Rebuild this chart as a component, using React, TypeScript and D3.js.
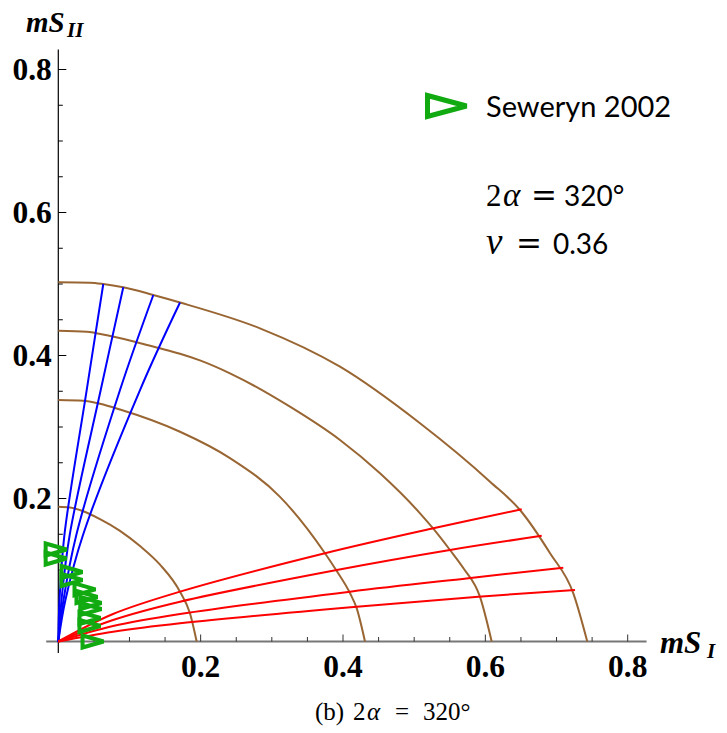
import React, { useRef, useEffect } from 'react';
import * as d3 from 'd3';

type Pt = [number, number];

// brown contours, inner to outer
const contour1: Pt[] = [[0, 0.1885], [0.0164, 0.1874], [0.0351, 0.1822], [0.0586, 0.1712], [0.0867, 0.1548], [0.1148, 0.1335], [0.1429, 0.1075], [0.171, 0.0697], [0.185, 0.0394], [0.1944, 0]];
const contour2: Pt[] = [[0, 0.3378], [0.0351, 0.3368], [0.0586, 0.3325], [0.0867, 0.3245], [0.171, 0.2934], [0.2412, 0.2565], [0.3115, 0.2023], [0.3747, 0.1234], [0.3912, 0.0985], [0.4099, 0.0674], [0.4193, 0.0464], [0.4309, 0]];
const contour3: Pt[] = [[0, 0.4347], [0.0399, 0.4333], [0.0516, 0.4316], [0.075, 0.4268], [0.1102, 0.4186], [0.1382, 0.4112], [0.171, 0.4025], [0.199, 0.3932], [0.2412, 0.3751], [0.3255, 0.3284], [0.3958, 0.2818], [0.452, 0.2352], [0.5082, 0.1793], [0.5269, 0.1578], [0.5503, 0.128], [0.569, 0.1028], [0.5924, 0.0627], [0.6089, 0]];
const contour4: Pt[] = [[0, 0.5024], [0.0445, 0.5018], [0.0632, 0.5], [0.0913, 0.4954], [0.1335, 0.4846], [0.171, 0.4741], [0.2833, 0.438], [0.3958, 0.3843], [0.5082, 0.3052], [0.6066, 0.2235], [0.6487, 0.1839], [0.6909, 0.1234], [0.7236, 0.0674], [0.7432, 0]];

// red paths (mode I dominated)
const redPath1: Pt[] = [[0, 0], [0.0769, 0.0385], [0.171, 0.0697], [0.3747, 0.1234], [0.5269, 0.1583], [0.6511, 0.1849]];
const redPath2: Pt[] = [[0, 0], [0.0769, 0.0301], [0.171, 0.0557], [0.3912, 0.1], [0.5503, 0.128], [0.6792, 0.1478]];
const redPath3: Pt[] = [[0, 0], [0.0769, 0.0217], [0.171, 0.0385], [0.4099, 0.0697], [0.5761, 0.0885], [0.7095, 0.1032]];
const redPath4: Pt[] = [[0, 0], [0.0769, 0.0137], [0.171, 0.0255], [0.4193, 0.0487], [0.5901, 0.0627], [0.726, 0.072]];

// blue paths (mode II dominated)
const bluePath1: Pt[] = [[0, 0], [0.0017, 0.058], [0.0086, 0.149], [0.0399, 0.3517], [0.0632, 0.5]];
const bluePath2: Pt[] = [[0, 0], [0.0045, 0.058], [0.016, 0.149], [0.0596, 0.3517], [0.0913, 0.4954]];
const bluePath3: Pt[] = [[0, 0], [0.0073, 0.058], [0.0253, 0.149], [0.0867, 0.3517], [0.1335, 0.4846]];
const bluePath4: Pt[] = [[0, 0], [0.01, 0.058], [0.0347, 0.149], [0.1148, 0.3517], [0.171, 0.4741]];

// Seweryn 2002 experiments
const sewerynX = [-0.003, -0.003, 0.0192, 0.0192, 0.0375, 0.0403, 0.0459, 0.0459, 0.0445, 0.0445, 0.0488];
const sewerynY = [0.1287, 0.1161, 0.0972, 0.086, 0.073, 0.0622, 0.0538, 0.0455, 0.0329, 0.0217, 0];

const majorTicks = [0.2, 0.4, 0.6, 0.8];
const minorTicks = [0.05, 0.1, 0.15, 0.25, 0.3, 0.35, 0.45, 0.5, 0.55, 0.65, 0.7, 0.75];

const BROWN = '#996633';
const GREEN = '#11aa11';

const triangle = (cx: number, cy: number, hw: number, hh: number) =>
  `M${cx - hw},${cy - hh}L${cx + hw},${cy}L${cx - hw},${cy + hh}Z`;

const Chart: React.FC = () => {
  const svgRef = useRef<SVGSVGElement | null>(null);

  useEffect(() => {
    if (!svgRef.current) return;
    const svg = d3.select(svgRef.current);
    svg.selectAll('*').remove();

    const x = d3.scaleLinear().domain([0, 0.8]).range([58.3, 627.7]);
    const y = d3.scaleLinear().domain([0, 0.8]).range([641.5, 69.5]);

    const smooth = d3.line<Pt>()
      .x(d => x(d[0]))
      .y(d => y(d[1]))
      .curve(d3.curveMonotoneX);

    const line = d3.line<Pt>()
      .x(d => x(d[0]))
      .y(d => y(d[1]))
      .curve(d3.curveCatmullRom.alpha(0.5));

    // axes lines
    svg.append('line')
      .attr('x1', x(-0.017)).attr('x2', x(0.8265))
      .attr('y1', y(0)).attr('y2', y(0))
      .attr('stroke', '#777').attr('stroke-width', 2);
    svg.append('line')
      .attr('x1', x(0)).attr('x2', x(0))
      .attr('y1', y(-0.016)).attr('y2', y(0.828))
      .attr('stroke', '#000').attr('stroke-width', 1.2);

    // x ticks
    const xAxis = svg.append('g').attr('transform', `translate(0,${y(0)})`);
    xAxis.selectAll('line.major').data(majorTicks).join('line')
      .attr('x1', d => x(d)).attr('x2', d => x(d))
      .attr('y1', 0).attr('y2', -7)
      .attr('stroke', '#333').attr('stroke-width', 1);
    xAxis.selectAll('line.minor').data(minorTicks).join('line')
      .attr('class', 'minor')
      .attr('x1', d => x(d)).attr('x2', d => x(d))
      .attr('y1', 0).attr('y2', -4.5)
      .attr('stroke', '#333').attr('stroke-width', 1);
    xAxis.selectAll('text').data(majorTicks).join('text')
      .attr('x', d => x(d)).attr('y', 35.5)
      .attr('text-anchor', 'middle')
      .attr('font-family', '"Liberation Serif", serif')
      .attr('font-weight', 'bold')
      .attr('font-size', 31.5)
      .text(d => d3.format('.1f')(d));

    // y ticks
    const yAxis = svg.append('g').attr('transform', `translate(${x(0)},0)`);
    yAxis.selectAll('line.major').data(majorTicks).join('line')
      .attr('y1', d => y(d)).attr('y2', d => y(d))
      .attr('x1', 0).attr('x2', 8)
      .attr('stroke', '#000').attr('stroke-width', 1);
    yAxis.selectAll('line.minor').data(minorTicks).join('line')
      .attr('class', 'minor')
      .attr('y1', d => y(d)).attr('y2', d => y(d))
      .attr('x1', 0).attr('x2', 4.5)
      .attr('stroke', '#000').attr('stroke-width', 1);
    yAxis.selectAll('text').data(majorTicks).join('text')
      .attr('x', -6.5).attr('y', d => y(d) + 10.5)
      .attr('text-anchor', 'end')
      .attr('font-family', '"Liberation Serif", serif')
      .attr('font-weight', 'bold')
      .attr('font-size', 31.5)
      .text(d => d3.format('.1f')(d));

    // contours
    [contour1, contour2, contour3, contour4].forEach(c => {
      svg.append('path').datum(c)
        .attr('fill', 'none').attr('stroke', BROWN).attr('stroke-width', 2)
        .attr('d', smooth);
    });

    [bluePath1, bluePath2, bluePath3, bluePath4].forEach(c => {
      svg.append('path').datum(c)
        .attr('fill', 'none').attr('stroke', '#0000ff').attr('stroke-width', 2)
        .attr('d', line);
    });

    [redPath1, redPath2, redPath3, redPath4].forEach(c => {
      svg.append('path').datum(c)
        .attr('fill', 'none').attr('stroke', '#ff0000').attr('stroke-width', 2)
        .attr('d', line);
    });

    // experimental markers
    svg.append('g').selectAll('path').data(sewerynX.map((v, i) => [v, sewerynY[i]] as Pt)).join('path')
      .attr('d', d => triangle(x(d[0]), y(d[1]), 10.5, 6))
      .attr('fill', 'none')
      .attr('stroke', GREEN)
      .attr('stroke-width', 4)
      .attr('stroke-linejoin', 'miter')
      .attr('stroke-miterlimit', 2);

    // legend
    svg.append('path')
      .attr('d', triangle(447, 106, 19.5, 10.5))
      .attr('fill', 'none').attr('stroke', GREEN).attr('stroke-width', 5)
      .attr('stroke-linejoin', 'miter').attr('stroke-miterlimit', 2);
    svg.append('text')
      .attr('x', 486).attr('y', 116.7)
      .attr('font-family', 'Lato, sans-serif').attr('font-size', 29)
      .text('Seweryn 2002');

    const t1 = svg.append('text').attr('y', 206);
    t1.append('tspan').attr('x', 486).attr('font-family', '"Liberation Serif", serif').attr('font-size', 31).text('2');
    t1.append('tspan').attr('x', 503).attr('font-family', '"Liberation Serif", serif').attr('font-style', 'italic').attr('font-size', 33).text('α');
    t1.append('tspan').attr('x', 531).attr('font-family', '"DejaVu Serif", serif').attr('font-size', 31).text('=');
    t1.append('tspan').attr('x', 564).attr('font-family', 'Lato, sans-serif').attr('font-size', 28).text('320°');

    const t2 = svg.append('text').attr('y', 254);
    t2.append('tspan').attr('x', 486).attr('font-family', '"Liberation Serif", serif').attr('font-style', 'italic').attr('font-size', 37).text('ν');
    t2.append('tspan').attr('x', 516).attr('font-family', '"DejaVu Serif", serif').attr('font-size', 31).text('=');
    t2.append('tspan').attr('x', 553).attr('font-family', 'Lato, sans-serif').attr('font-size', 28).text('0.36');

    // axis titles
    const yt = svg.append('text').attr('font-family', '"Liberation Serif", serif')
      .attr('font-weight', 'bold').attr('font-style', 'italic');
    yt.append('tspan').attr('x', 26).attr('y', 32).attr('font-size', 29).text('mS');
    yt.append('tspan').attr('x', 67).attr('y', 37).attr('font-size', 21).text('II');

    const xt = svg.append('text').attr('font-family', '"Liberation Serif", serif')
      .attr('font-weight', 'bold').attr('font-style', 'italic');
    xt.append('tspan').attr('x', 660).attr('y', 653).attr('font-size', 31).text('mS');
    xt.append('tspan').attr('x', 707).attr('y', 658).attr('font-size', 21).text('I');

    // caption
    const cap = svg.append('text').attr('y', 720)
      .attr('font-family', '"Liberation Serif", serif').attr('font-size', 25);
    cap.append('tspan').attr('x', 315).text('(b)');
    cap.append('tspan').attr('x', 353).text('2');
    cap.append('tspan').attr('x', 367).attr('font-style', 'italic').text('α');
    cap.append('tspan').attr('x', 395).text('=');
    cap.append('tspan').attr('x', 423).text('320°');
  }, []);

  return (
    <svg
      ref={svgRef}
      width={727}
      height={733}
      style={{ position: 'absolute', left: 0, top: 0, background: '#fff' }}
    />
  );
};

export default function App() {
  return <Chart />;
}
